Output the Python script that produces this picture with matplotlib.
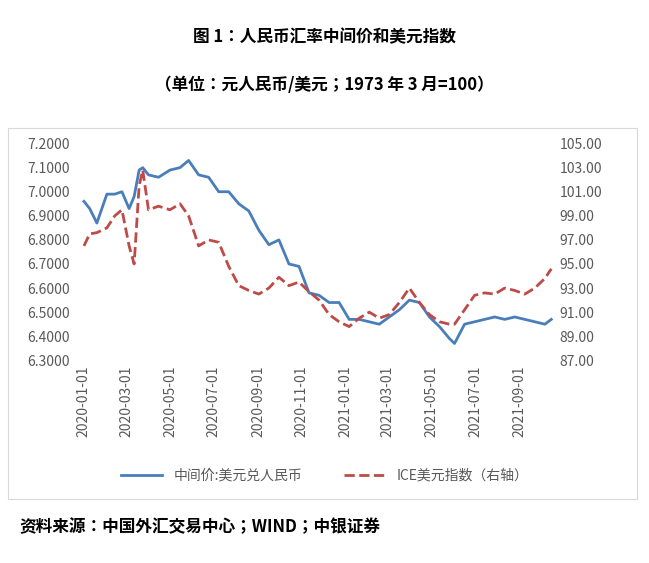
import matplotlib
matplotlib.use("Agg")
import matplotlib.pyplot as plt
import matplotlib.dates as mdates
from matplotlib import font_manager
import pandas as pd

# pick whatever CJK family is actually registered
cjk = [f.name for f in font_manager.fontManager.ttflist if "CJK" in f.name]
plt.rcParams["font.family"] = (["Noto Sans CJK SC"] if "Noto Sans CJK SC" in cjk else cjk[:1]) + ["DejaVu Sans"]

dates = pd.to_datetime([
    "2020-01-02", "2020-01-10", "2020-01-20", "2020-02-03", "2020-02-14", "2020-02-24",
    "2020-03-05", "2020-03-12", "2020-03-19", "2020-03-24", "2020-04-01", "2020-04-15",
    "2020-05-01", "2020-05-15", "2020-05-27", "2020-06-10", "2020-06-24", "2020-07-08",
    "2020-07-22", "2020-08-05", "2020-08-19", "2020-09-02", "2020-09-16", "2020-09-30",
    "2020-10-14", "2020-10-28", "2020-11-11", "2020-11-25", "2020-12-09", "2020-12-23",
    "2021-01-06", "2021-01-20", "2021-02-03", "2021-02-17", "2021-03-03", "2021-03-17",
    "2021-03-31", "2021-04-14", "2021-04-28", "2021-05-12", "2021-05-26", "2021-06-02",
    "2021-06-16", "2021-06-30", "2021-07-14", "2021-07-28", "2021-08-11", "2021-08-25",
    "2021-09-08", "2021-09-22", "2021-10-06", "2021-10-15",
])
usdcny = [
    6.96, 6.93, 6.87, 6.99, 6.99, 7.00,
    6.93, 6.98, 7.09, 7.10, 7.07, 7.06,
    7.09, 7.10, 7.13, 7.07, 7.06, 7.00,
    7.00, 6.95, 6.92, 6.84, 6.78, 6.80,
    6.70, 6.69, 6.58, 6.57, 6.54, 6.54,
    6.47, 6.47, 6.46, 6.45, 6.48, 6.51,
    6.55, 6.54, 6.48, 6.44, 6.39, 6.37,
    6.45, 6.46, 6.47, 6.48, 6.47, 6.48,
    6.47, 6.46, 6.45, 6.47,
]
dxy = [
    96.5, 97.5, 97.6, 98.0, 99.0, 99.5,
    96.5, 95.0, 101.5, 102.8, 99.5, 99.8,
    99.5, 100.0, 99.0, 96.5, 97.0, 96.8,
    94.8, 93.2, 92.8, 92.5, 93.0, 93.9,
    93.2, 93.5, 92.7, 92.0, 90.8, 90.2,
    89.8, 90.5, 91.0, 90.5, 90.8, 91.8,
    93.0, 91.8, 90.8, 90.2, 90.0, 90.0,
    91.2, 92.4, 92.6, 92.5, 93.0, 92.8,
    92.5, 93.0, 93.8, 94.6,
]
xticks = pd.date_range("2020-01-01", "2021-09-01", freq="2MS")

fig = plt.figure(figsize=(6.49, 5.63), dpi=100)
fig.text(0.5, 0.925, "图 1：人民币汇率中间价和美元指数", ha="center", fontsize=12, fontweight="bold")
fig.text(0.5, 0.84, "（单位：元人民币/美元；1973 年 3 月=100）", ha="center", fontsize=12, fontweight="bold")
fig.text(0.03, 0.055, "资料来源：中国外汇交易中心；WIND；中银证券", ha="left", fontsize=12, fontweight="bold")
fig.patches.append(plt.Rectangle((0.012, 0.113), 0.97, 0.66, transform=fig.transFigure,
                                 fill=False, edgecolor="#d9d9d9", lw=0.8))

ax = fig.add_axes([0.115, 0.36, 0.74, 0.385])
ax.plot(dates, usdcny, color="#4a7ebb", lw=2, label="中间价:美元兑人民币")
ax.set_ylim(6.3, 7.2)
ax.set_yticks([6.3 + 0.1 * i for i in range(10)])
ax.set_yticklabels([f"{6.3 + 0.1 * i:.4f}" for i in range(10)])
ax.set_xlim(pd.Timestamp("2019-12-20"), pd.Timestamp("2021-10-20"))
ax.set_xticks(xticks)
ax.xaxis.set_major_formatter(mdates.DateFormatter("%Y-%m-%d"))
plt.setp(ax.get_xticklabels(), rotation=90)
ax2 = ax.twinx()
ax2.plot(dates, dxy, color="#be4b48", lw=2, ls="--", label="ICE美元指数（右轴）")
ax2.set_ylim(87, 105)
ax2.set_yticks(range(87, 106, 2))
ax2.set_yticklabels([f"{v:.2f}" for v in range(87, 106, 2)])
for a in (ax, ax2):
    for s in a.spines.values():
        s.set_visible(False)
    a.tick_params(length=0, labelsize=10, colors="#595959")
h1, l1 = ax.get_legend_handles_labels()
h2, l2 = ax2.get_legend_handles_labels()
fig.legend(h1 + h2, l1 + l2, loc="center", bbox_to_anchor=(0.5, 0.155), ncol=2,
           frameon=False, fontsize=10, labelcolor="#595959", handlelength=3, columnspacing=3)
fig.savefig("out.png")
